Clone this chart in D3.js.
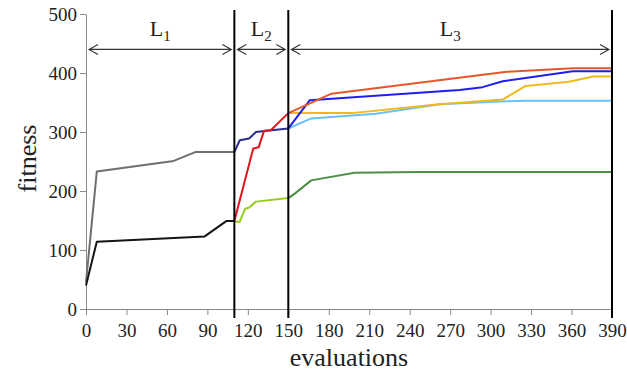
<!DOCTYPE html>
<html>
<head>
<meta charset="utf-8">
<script src="https://cdn.jsdelivr.net/npm/d3@7"></script>
<style>
  body { margin: 0; background: #fff; }
  .axis path, .axis line { stroke: #8a8a8a; }
</style>
</head>
<body>
<svg id="chart" width="627" height="378"></svg>
<script>
// Tick values on both axes.
var xTicks = [0, 30, 60, 90, 120, 150, 180, 210, 240, 270, 300, 330, 360, 390];
var yTicks = [0, 100, 200, 300, 400, 500];

// Phase borders and phase labels.
var borders = [110, 150, 390];
var phases = [
    {name: "L", sub: "1", from: 0, to: 110},
    {name: "L", sub: "2", from: 110, to: 150},
    {name: "L", sub: "3", from: 150, to: 390}
];

// Phase L1 runs.
var grayRun  = [[0, 45], [8, 233], [65, 251], [81, 266], [110, 266]];
var blackRun = [[0, 40], [8, 114], [88, 123], [104, 149], [110, 149]];

// Phase L2 runs.
var navyRun  = [[110, 266], [114, 286], [121, 289], [126, 300], [134, 302], [150, 306]];
var redRun   = [[110, 149], [124, 272], [128, 274], [132, 302], [137, 303], [150, 332]];
var limeRun  = [[110, 148], [114, 148], [118, 170], [121, 172], [126, 182], [150, 188]];

// Phase L3 runs.
var greenRun  = [[150, 188], [155, 196], [167, 218], [199, 231], [247, 232], [390, 232]];
var skyRun    = [[150, 306], [167, 323], [215, 331], [262, 347], [311, 352], [326, 353], [390, 353]];
var yellowRun = [[150, 332], [197, 332], [262, 347], [309, 355], [326, 378], [358, 385], [376, 394], [390, 394]];
var blueRun   = [[150, 306], [166, 354], [277, 371], [294, 376], [309, 386], [361, 403], [390, 403]];
var orangeRun = [[150, 332], [182, 365], [312, 402], [361, 408], [390, 408]];

var series = [
    {data: grayRun,   color: "#6f6f6f"},
    {data: blackRun,  color: "#151515"},
    {data: limeRun,   color: "#96cc1e"},
    {data: greenRun,  color: "#4e8f46"},
    {data: skyRun,    color: "#6cc0ff"},
    {data: yellowRun, color: "#f0b91e"},
    {data: navyRun,   color: "#2c2c92"},
    {data: redRun,    color: "#e3141c"},
    {data: blueRun,   color: "#1f1ff5"},
    {data: orangeRun, color: "#e2582a"}
];

var serif = "'Liberation Serif', 'DejaVu Serif', serif";

var margin = {top: 14, right: 15, bottom: 69, left: 86},
    w = 627 - margin.left - margin.right,
    h = 378 - margin.top - margin.bottom;

var svg = d3.select("#chart");
var g = svg.append("g").attr("transform", "translate(" + margin.left + "," + margin.top + ")");

var x = d3.scaleLinear().domain([0, 390]).range([0, w]);
var y = d3.scaleLinear().domain([0, 500]).range([h, 0]);

// Axes.
g.append("g").attr("class", "axis")
    .attr("transform", "translate(0," + h + ")")
    .call(d3.axisBottom(x).tickValues(xTicks).tickSize(6).tickSizeOuter(0))
    .call(function(a) {
        a.attr("font-family", serif).attr("font-size", 19);
        a.selectAll("text").attr("dy", "1.0em").attr("fill", "#222");
    });
g.append("g").attr("class", "axis")
    .call(d3.axisLeft(y).tickValues(yTicks).tickSize(6).tickSizeOuter(0))
    .call(function(a) {
        a.attr("font-family", serif).attr("font-size", 19);
        a.selectAll("text").attr("dy", "0.35em").attr("x", -9).attr("fill", "#222");
    });

// Axis titles.
svg.append("text")
    .attr("x", margin.left + x(195) + 0)
    .attr("y", 366)
    .attr("text-anchor", "middle")
    .attr("font-family", serif)
    .attr("font-size", 26)
    .attr("fill", "#222")
    .text("evaluations");
svg.append("text")
    .attr("transform", "translate(36," + (margin.top + y(250) - 3) + ") rotate(-90)")
    .attr("text-anchor", "middle")
    .attr("font-family", serif)
    .attr("font-size", 26)
    .attr("fill", "#222")
    .text("fitness");

// Lines.
var line = d3.line().x(function(d) { return x(d[0]); }).y(function(d) { return y(d[1]); });
g.selectAll("path.run").data(series).enter().append("path")
    .attr("class", "run")
    .attr("d", function(d) { return line(d.data); })
    .attr("fill", "none")
    .attr("stroke", function(d) { return d.color; })
    .attr("stroke-width", 2)
    .attr("stroke-linejoin", "round");

// Phase borders.
g.selectAll("line.border").data(borders).enter().append("line")
    .attr("class", "border")
    .attr("x1", function(d) { return x(d); })
    .attr("x2", function(d) { return x(d); })
    .attr("y1", -4)
    .attr("y2", h + 9)
    .attr("stroke", "#000")
    .attr("stroke-width", 2);

// Double arrows with phase labels.
var arrowY = y(440);
var ph = g.selectAll("g.phase").data(phases).enter().append("g").attr("class", "phase");
ph.append("path")
    .attr("d", function(d) {
        var a = x(d.from) + 3, b = x(d.to) - 3;
        return "M" + a + "," + arrowY + "H" + b +
            "M" + (a + 9) + "," + (arrowY - 5) + "L" + a + "," + arrowY + "L" + (a + 9) + "," + (arrowY + 5) +
            "M" + (b - 9) + "," + (arrowY - 5) + "L" + b + "," + arrowY + "L" + (b - 9) + "," + (arrowY + 5);
    })
    .attr("fill", "none")
    .attr("stroke", "#333")
    .attr("stroke-width", 1.1);
var lab = ph.append("text")
    .attr("x", function(d) { return (x(d.from) + x(d.to)) / 2; })
    .attr("y", arrowY - 13)
    .attr("text-anchor", "middle")
    .attr("font-family", serif)
    .attr("font-size", 22)
    .attr("fill", "#222");
lab.append("tspan").text(function(d) { return d.name; });
lab.append("tspan").attr("dy", 5).attr("font-size", 15).text(function(d) { return d.sub; });
</script>
</body>
</html>
